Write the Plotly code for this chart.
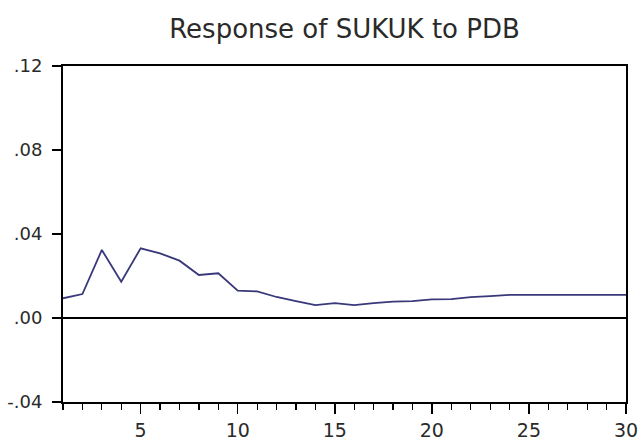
import plotly.graph_objects as go

periods = list(range(1, 31))
response = [0.0094, 0.0114, 0.0324, 0.0173, 0.0332, 0.0308, 0.0273, 0.0205, 0.0213, 0.0130,
            0.0127, 0.0100, 0.0080, 0.0061, 0.0071, 0.0061, 0.0071, 0.0078, 0.0080, 0.0089,
            0.0090, 0.0099, 0.0104, 0.0110, 0.0110, 0.0110, 0.0110, 0.0110, 0.0110, 0.0110]

y_tick_vals = [-0.04, 0.00, 0.04, 0.08, 0.12]
y_tick_text = ["-.04", ".00", ".04", ".08", ".12"]
x_tick_vals = [5, 10, 15, 20, 25, 30]
title_text = "Response of SUKUK to PDB"

FONT = "DejaVu Sans"
TXT = "#2a2a2a"

fig = go.Figure()
fig.add_trace(go.Scatter(x=periods, y=response, mode="lines",
                         line=dict(color="#38387a", width=1.8),
                         hoverinfo="skip", showlegend=False))

fig.add_hline(y=0, line=dict(color="black", width=2))

fig.update_layout(
    width=640, height=443,
    margin=dict(l=63, r=14, t=66, b=41, autoexpand=False),
    paper_bgcolor="white", plot_bgcolor="white",
    title=dict(text=title_text, x=0.5, xref="paper", xanchor="center",
               y=1 - 29 / 443, yref="container", yanchor="middle",
               font=dict(family=FONT, size=26, color=TXT)),
    showlegend=False,
)

fig.update_xaxes(
    range=[1, 30], showgrid=False, zeroline=False, automargin=False,
    showline=True, linecolor="black", linewidth=2, mirror=True,
    tickmode="array", tickvals=x_tick_vals, ticktext=[str(v) for v in x_tick_vals],
    ticks="outside", ticklen=10, tickwidth=1.5, tickcolor="black",
    minor=dict(tickmode="linear", tick0=1, dtick=1, ticks="outside",
               ticklen=6, tickwidth=1.2, tickcolor="black", showgrid=False),
    tickfont=dict(family=FONT, size=19, color=TXT),
)

fig.update_yaxes(
    range=[-0.04, 0.12], showgrid=False, zeroline=False, automargin=False,
    showline=True, linecolor="black", linewidth=2, mirror=True,
    tickmode="array", tickvals=y_tick_vals, ticktext=y_tick_text,
    ticks="outside", ticklen=9, tickwidth=1.5, tickcolor="black",
    ticklabelstandoff=6,
    tickfont=dict(family=FONT, size=18, color=TXT),
)

fig.write_html("out.html",
               config={"displayModeBar": False, "staticPlot": True},
               post_script="document.body.style.margin='0';document.body.style.overflow='hidden';")
